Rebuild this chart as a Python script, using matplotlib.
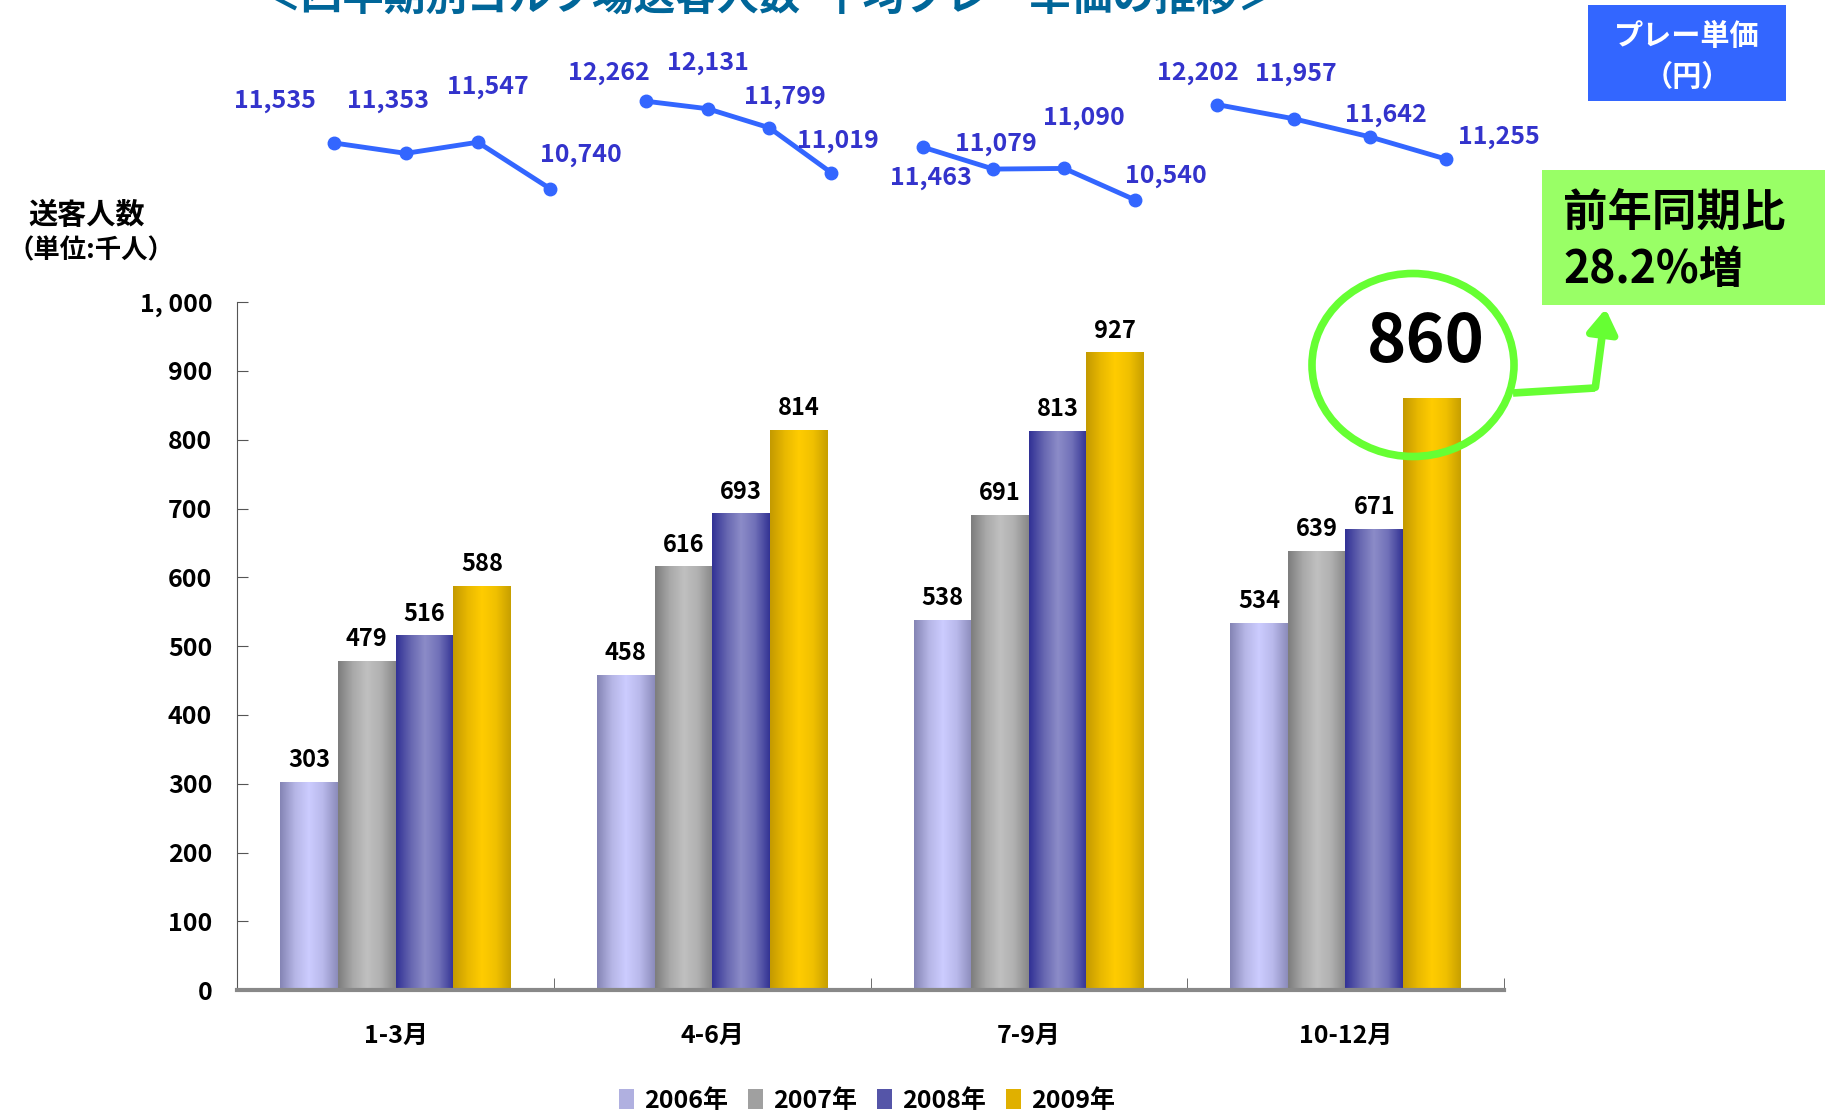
import matplotlib
matplotlib.use("Agg")
import matplotlib.pyplot as plt
import numpy as np
from matplotlib.colors import LinearSegmentedColormap
from matplotlib.patches import Patch, Ellipse, Rectangle, FancyArrowPatch
from matplotlib.lines import Line2D

plt.rcParams['font.family'] = ['Noto Sans CJK JP', 'DejaVu Sans']
plt.rcParams['font.weight'] = 'bold'

# data
quarters = ['1-3月', '4-6月', '7-9月', '10-12月']
years = ['2006年', '2007年', '2008年', '2009年']
visitors = {
    '2006年': [303, 458, 538, 534],
    '2007年': [479, 616, 691, 639],
    '2008年': [516, 693, 813, 671],
    '2009年': [588, 814, 927, 860],
}
price = {
    '1-3月': [11535, 11353, 11547, 10740],
    '4-6月': [12262, 12131, 11799, 11019],
    '7-9月': [11463, 11079, 11090, 10540],
    '10-12月': [12202, 11957, 11642, 11255],
}
yticks = [0, 100, 200, 300, 400, 500, 600, 700, 800, 900, 1000]

# styles
grad_colors = {
    '2006年': ['#8585B5', '#B5B5E5', '#CCCCFF', '#B8B8EA', '#8C8CBC'],
    '2007年': ['#7E7E7E', '#A8A8A8', '#C0C0C0', '#B0B0B0', '#888888'],
    '2008年': ['#323296', '#6666B0', '#8C8CC8', '#7070B8', '#343494'],
    '2009年': ['#C49A00', '#E8B800', '#FFCC00', '#F0C000', '#C8A000'],
}
legend_colors = {'2006年': '#B0B0E0', '2007年': '#A0A0A0', '2008年': '#5555A8', '2009年': '#E0B000'}
# placement of the price line over each group (shift, spread in bar widths)
line_shift = [0.146, 0.083, 0.0, -0.044]
line_spread = [1.25, 1.07, 1.23, 1.32]
# offsets (points) for the price labels
label_off = [(-42, 30), (-13, 38), (7, 40), (22, 24),
             (-27, 20), (0, 33), (11, 22), (5, 23),
             (6, -22), (2, 18), (14, 36), (22, 17),
             (-14, 23), (2, 32), (12, 16), (38, 16)]

fig = plt.figure(figsize=(18.25, 11.15), dpi=100)
ax = fig.add_axes([0.130, 0.112, 0.694, 0.617])

x = np.arange(len(quarters))
bw = 0.182
for i, yr in enumerate(years):
    pos = x + (i - 1.5) * bw
    bars = ax.bar(pos, visitors[yr], bw, color='none', edgecolor='none', zorder=2)
    cmap = LinearSegmentedColormap.from_list(yr, grad_colors[yr])
    grad = np.linspace(0, 1, 64).reshape(1, -1)
    for b, v in zip(bars, visitors[yr]):
        im = ax.imshow(grad, cmap=cmap, aspect='auto', zorder=2,
                       extent=[b.get_x(), b.get_x() + b.get_width(), 0, v])
        im.set_clip_path(b)
    for j, (p, v) in enumerate(zip(pos, visitors[yr])):
        if yr == '2009年' and j == 3:
            continue
        ax.text(p, v + 14, str(v), ha='center', va='bottom', fontsize=17,
                fontweight='bold', color='black')

ax.set_xlim(-0.5, 3.5)
ax.set_ylim(0, 1000)
ax.set_yticks(yticks)
ax.set_yticklabels(['1, 000' if t == 1000 else str(t) for t in yticks])
ax.set_xticks(x)
ax.set_xticklabels(quarters)
ax.set_xticks(np.arange(-0.5, 4, 1), minor=True)
ax.tick_params(axis='x', which='major', length=0, pad=24, labelsize=18)
ax.tick_params(axis='x', which='minor', direction='in', length=9, color='#555555')
ax.tick_params(axis='y', direction='in', length=8, pad=18, labelsize=18, color='#555555')
for lab in ax.get_xticklabels() + ax.get_yticklabels():
    lab.set_fontweight('bold')
ax.spines['top'].set_visible(False)
ax.spines['right'].set_visible(False)
ax.spines['left'].set_color('#555555')
ax.spines['bottom'].set_color('#888888')
ax.spines['bottom'].set_linewidth(3)

# big 860 label with ellipse
ax.text(3 + 1.5 * bw - 0.02, 860 + 82, str(visitors['2009年'][3]), ha='center', va='center',
        fontsize=48, fontweight='bold', color='black')
fig.add_artist(Ellipse((1413 / 1825, 1 - 365 / 1115), 202 / 1825, 183 / 1115,
                       transform=fig.transFigure, fill=False, edgecolor='#66FF33', lw=5.5))
fig.add_artist(Line2D([1513 / 1825, 1595 / 1825], [1 - 393 / 1115, 1 - 388 / 1115],
                      transform=fig.transFigure, color='#66FF33', lw=5.5,
                      solid_capstyle='butt'))
fig.add_artist(FancyArrowPatch((1595 / 1825, 1 - 390 / 1115), (1606 / 1825, 1 - 306 / 1115),
                               transform=fig.transFigure, arrowstyle='-|>,head_length=14,head_width=9',
                               color='#66FF33', lw=5.5, mutation_scale=1))

# price lines
ax2 = fig.add_axes([0.130, 0.776, 0.694, 0.224], facecolor='none')
k = 0
for g, q in enumerate(quarters):
    px = g + line_shift[g] + (np.arange(4) - 1.5) * bw * line_spread[g]
    ax2.plot(px, price[q], color='#3366FF', lw=3.5, marker='o', markersize=9, zorder=3)
    for xx, v in zip(px, price[q]):
        ax2.annotate(f'{v:,}', (xx, v), xytext=label_off[k], textcoords='offset points',
                     ha='center', va='center', fontsize=18, color='#3333CC',
                     fontweight='bold')
        k += 1
ax2.set_xlim(-0.5, 3.5)
ax2.set_ylim(9672, 14027)
ax2.axis('off')

# titles / boxes
fig.text(0.422, 1.002, '＜四半期別ゴルフ場送客人数･平均プレー単価の推移＞', ha='center', va='center',
         fontsize=30, fontweight='bold', color='#006699')
fig.text(87 / 1825, 1 - 215 / 1115, '送客人数', ha='center', va='center', fontsize=21, fontweight='bold')
fig.text(91 / 1825, 1 - 251 / 1115, '（単位:千人）', ha='center', va='center', fontsize=19, fontweight='bold')

fig.add_artist(Rectangle((1588 / 1825, 1 - 101 / 1115), 198 / 1825, 96 / 1115,
                         transform=fig.transFigure, facecolor='#3366FF', edgecolor='none'))
fig.text(1687 / 1825, 1 - 36 / 1115, 'プレー単価', ha='center', va='center', fontsize=21,
         fontweight='bold', color='white')
fig.text(1687 / 1825, 1 - 77 / 1115, '（円）', ha='center', va='center', fontsize=21,
         fontweight='bold', color='white')

fig.add_artist(Rectangle((1542 / 1825, 1 - 305 / 1115), 283 / 1825, 135 / 1115,
                         transform=fig.transFigure, facecolor='#99FF66', edgecolor='none'))
fig.text(1563 / 1825, 1 - 213 / 1115, '前年同期比', ha='left', va='center', fontsize=32,
         fontweight='bold', color='black')
fig.text(1563 / 1825, 1 - 270 / 1115, '28.2%増', ha='left', va='center', fontsize=32,
         fontweight='bold', color='black')

handles = [Patch(facecolor=legend_colors[yr], edgecolor='none') for yr in years]
leg = fig.legend(handles, years, loc='center', bbox_to_anchor=(0.475, 0.013), ncol=4,
                 frameon=False, fontsize=18, handlelength=0.6, handleheight=0.9,
                 handletextpad=0.4, columnspacing=0.8)
for t in leg.get_texts():
    t.set_fontweight('bold')

fig.savefig('out.png', dpi=100)
